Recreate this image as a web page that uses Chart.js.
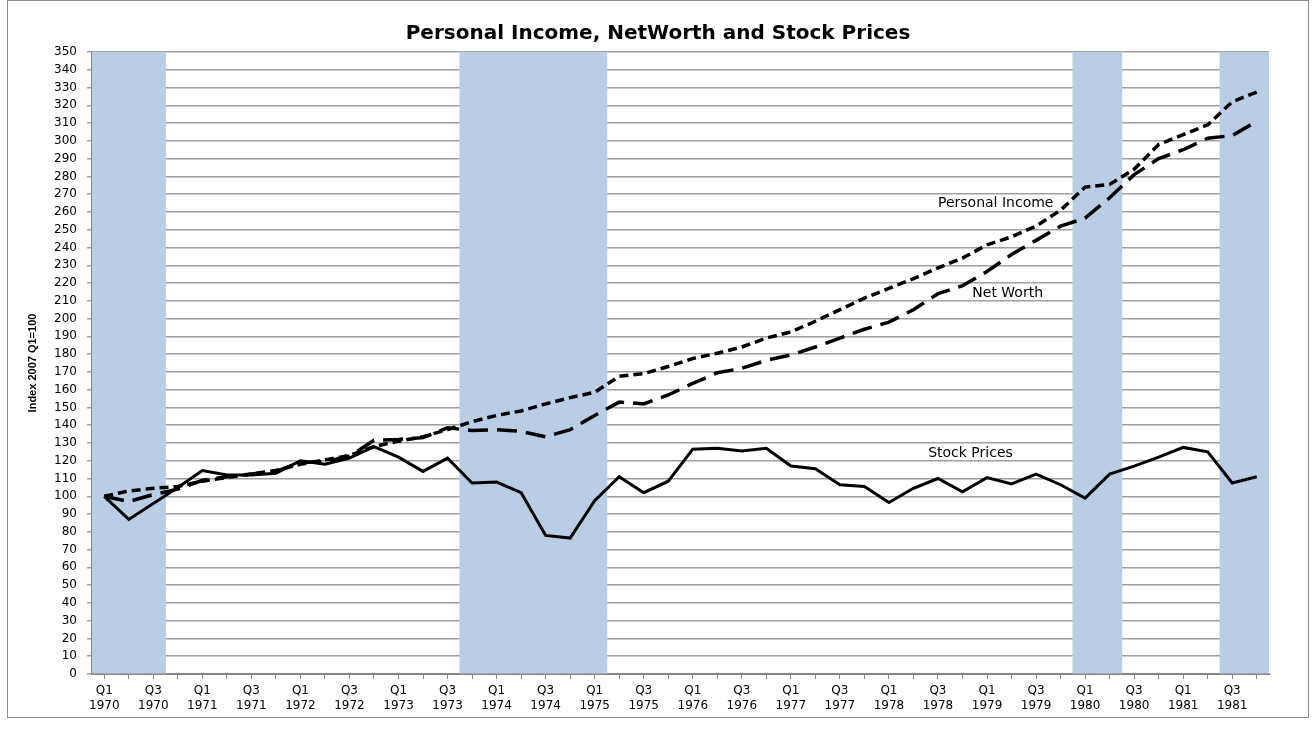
<!DOCTYPE html>
<html>
<head>
<meta charset="utf-8">
<title>Personal Income, NetWorth and Stock Prices</title>
<script src="https://cdn.jsdelivr.net/npm/chart.js@4"></script>
<style>
  html, body { margin: 0; padding: 0; background: #fff; }
</style>
</head>
<body>
<canvas id="myChart" width="1316" height="732"></canvas>
<script>
"use strict";

// Quarters on the category axis
const quarters = [
    "Q1 1970", "Q2 1970", "Q3 1970", "Q4 1970",
    "Q1 1971", "Q2 1971", "Q3 1971", "Q4 1971",
    "Q1 1972", "Q2 1972", "Q3 1972", "Q4 1972",
    "Q1 1973", "Q2 1973", "Q3 1973", "Q4 1973",
    "Q1 1974", "Q2 1974", "Q3 1974", "Q4 1974",
    "Q1 1975", "Q2 1975", "Q3 1975", "Q4 1975",
    "Q1 1976", "Q2 1976", "Q3 1976", "Q4 1976",
    "Q1 1977", "Q2 1977", "Q3 1977", "Q4 1977",
    "Q1 1978", "Q2 1978", "Q3 1978", "Q4 1978",
    "Q1 1979", "Q2 1979", "Q3 1979", "Q4 1979",
    "Q1 1980", "Q2 1980", "Q3 1980", "Q4 1980",
    "Q1 1981", "Q2 1981", "Q3 1981", "Q4 1981",
];

const personalIncome = [
    100, 103, 104.5, 105.5, 108.5, 110.5, 112.5, 114.5,
    118, 120.5, 123, 128, 131, 133.5, 137.5, 142,
    145.5, 148, 152, 155.5, 158.5, 167.5, 169, 173,
    177.5, 180.5, 184, 189, 192.5, 198.5, 205, 211.5,
    217, 222.5, 228.5, 234, 241.5, 246, 252, 261,
    274, 275.5, 284, 298, 303.5, 309, 322, 327.5,
];

const netWorth = [
    100, 97, 101, 104, 109, 111, 112.5, 114,
    119, 119.5, 122.5, 131.5, 132, 133, 138.5, 137,
    137.5, 136.5, 133.5, 137.5, 145.5, 153, 152, 157,
    163.5, 169.5, 172, 176.5, 179.5, 184, 189, 194,
    198, 205, 214, 218.5, 226.5, 236, 244, 252,
    256.5, 268, 281, 290, 295, 301.5, 303, 311,
];

const stockPrices = [
    100, 87, 96, 105, 114.5, 112, 112, 113,
    120, 118, 121.5, 128, 122, 114, 121.5, 107.5,
    108, 102, 78, 76.5, 97.5, 111, 102, 108.5,
    126.5, 127, 125.5, 127, 117, 115.5, 106.5, 105.5,
    96.5, 104.5, 110, 102.5, 110.5, 107, 112.5, 106.5,
    99, 112.5, 117, 122, 127.5, 125, 107.5, 111,
];

// 1 = recession quarter (shaded)
const recession = [
    1, 1, 1, 0, 0, 0, 0, 0,
    0, 0, 0, 0, 0, 0, 0, 1,
    1, 1, 1, 1, 1, 0, 0, 0,
    0, 0, 0, 0, 0, 0, 0, 0,
    0, 0, 0, 0, 0, 0, 0, 0,
    1, 1, 0, 0, 0, 0, 1, 1,
];

// Series names written beside the lines (category index, value)
const noteText = ["Personal Income", "Net Worth", "Stock Prices"];
const noteAt = [34, 35.4, 33.6];
const noteValue = [265, 214.4, 124.3];

const yMax = 350;
const font = "'DejaVu Sans', Verdana, sans-serif";

const framePlugin = {
    id: "frame",
    beforeDraw(chart) {
        const ctx = chart.ctx;
        ctx.save();
        ctx.fillStyle = "#fff";
        ctx.fillRect(0, 0, chart.width, chart.height);
        ctx.strokeStyle = "#8c8c8c";
        ctx.lineWidth = 1;
        ctx.strokeRect(7.5, 0.5, 1301, 717);
        ctx.restore();
    },
};

const notesPlugin = {
    id: "notes",
    afterDatasetsDraw(chart) {
        const ctx = chart.ctx;
        const x = chart.scales.x;
        const y = chart.scales.y;
        ctx.save();
        ctx.font = "14px " + font;
        ctx.fillStyle = "#000";
        ctx.textAlign = "left";
        ctx.textBaseline = "middle";
        noteText.forEach((t, i) => {
            ctx.fillText(t, x.getPixelForValue(noteAt[i]), y.getPixelForValue(noteValue[i]));
        });
        ctx.restore();
    },
};

const data = {
    labels: quarters,
    datasets: [
        {
            type: "line",
            label: "Stock Prices",
            data: stockPrices,
            borderColor: "#000",
            borderWidth: 3,
            pointRadius: 0,
            tension: 0,
            order: 1,
        },
        {
            type: "line",
            label: "Personal Income",
            data: personalIncome,
            borderColor: "#000",
            borderWidth: 3.5,
            borderDash: [9, 5],
            pointRadius: 0,
            tension: 0,
            order: 2,
        },
        {
            type: "line",
            label: "Net Worth",
            data: netWorth,
            borderColor: "#000",
            borderWidth: 3.5,
            borderDash: [20, 9],
            pointRadius: 0,
            tension: 0,
            order: 3,
        },
        {
            type: "bar",
            label: "Recession",
            data: recession.map((r) => (r ? yMax : null)),
            backgroundColor: "#b9cde5",
            borderWidth: 0,
            barPercentage: 1,
            categoryPercentage: 1,
            order: 10,
        },
    ],
};

const config = {
    type: "bar",
    data: data,
    options: {
        responsive: false,
        animation: false,
        layout: { padding: 0 },
        scales: {
            x: {
                offset: true,
                grid: {
                    drawOnChartArea: false,
                    offset: false,
                    tickLength: 5,
                    color: "#868686",
                },
                border: { color: "#868686", width: 2 },
                ticks: {
                    autoSkip: false,
                    maxRotation: 0,
                    padding: 4,
                    color: "#000",
                    font: { family: font, size: 12, lineHeight: 1.25 },
                    callback: (v, i) => (i % 2 === 0 ? quarters[i].split(" ") : ""),
                },
                afterFit(s) {
                    s.height = 58;
                },
            },
            y: {
                min: 0,
                max: yMax,
                ticks: {
                    stepSize: 10,
                    padding: 10,
                    color: "#000",
                    font: { family: font, size: 12 },
                },
                grid: { color: "#a0a0a0", lineWidth: 1.5, tickLength: 5 },
                border: { color: "#868686", width: 2 },
                title: {
                    display: true,
                    text: "Index 2007 Q1=100",
                    color: "#000",
                    font: { family: "'Liberation Sans Narrow', 'Liberation Sans', Arial", size: 11, weight: "bold" },
                    padding: { top: 26, bottom: 0 },
                },
                afterFit(s) {
                    s.width = 92;
                },
            },
            // empty right-hand strip, keeps the title centred on the page
            yRight: {
                position: "right",
                min: 0,
                max: yMax,
                grid: { drawOnChartArea: false, drawTicks: false },
                border: { display: false },
                ticks: { display: false },
                afterFit(s) {
                    s.width = 47;
                },
            },
        },
        plugins: {
            legend: { display: false },
            tooltip: { enabled: false },
            title: {
                display: true,
                text: "Personal Income, NetWorth and Stock Prices",
                color: "#000",
                font: { family: font, size: 20, weight: "bold" },
                padding: { top: 22, bottom: 6 },
            },
        },
    },
    plugins: [framePlugin, notesPlugin],
};

const myChart = new Chart(document.getElementById("myChart"), config);
</script>
</body>
</html>
